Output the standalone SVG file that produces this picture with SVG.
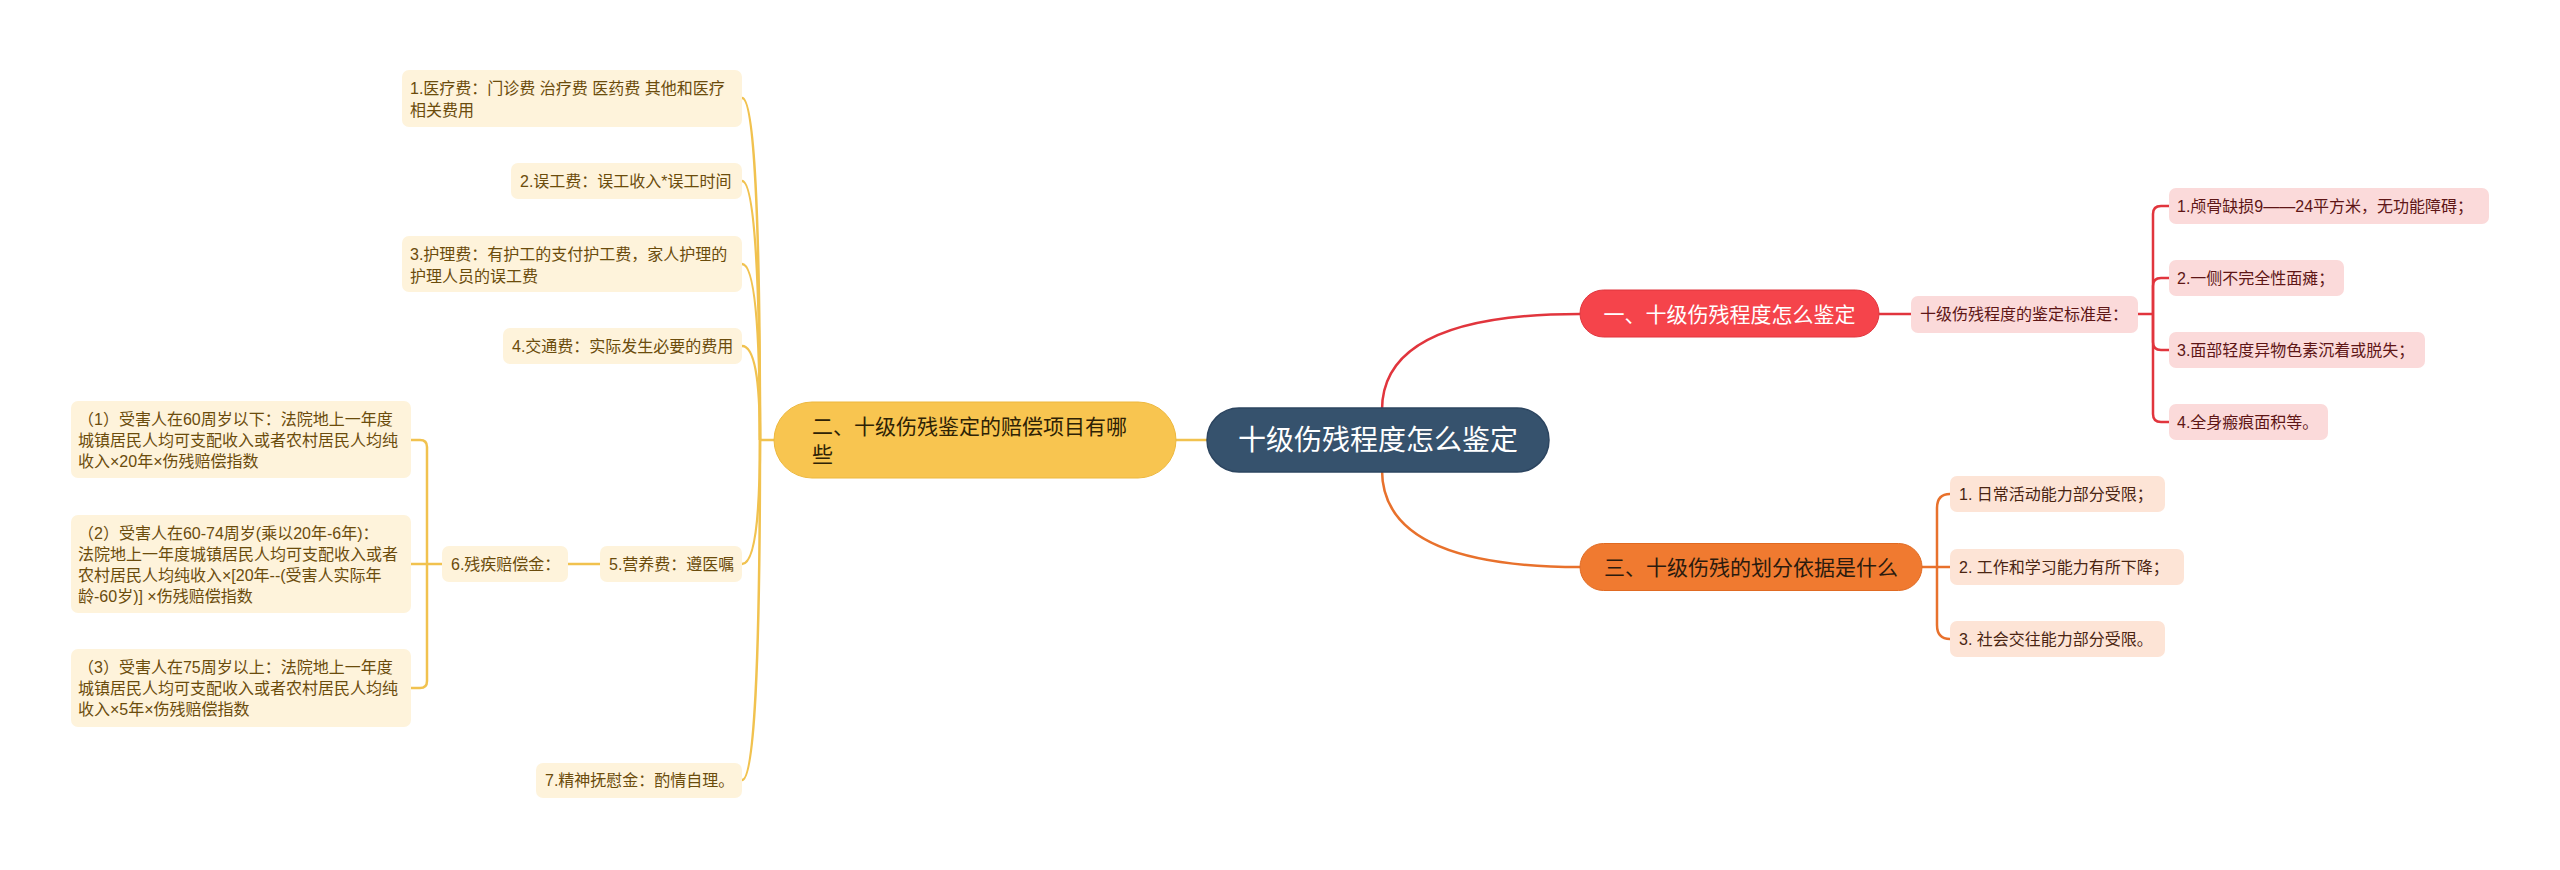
<svg xmlns="http://www.w3.org/2000/svg" width="2560" height="870" viewBox="0 0 2560 870">
<style>
text{font-family:"Liberation Sans","Noto Sans CJK SC",sans-serif;}
.yl{fill:#FEF3DB;}
.yt{fill:#6B4C0C;font-size:16px;}
.rl{fill:#FBDADA;}
.rt{fill:#5E1616;font-size:16px;}
.ol{fill:#FDE4D6;}
.ot{fill:#4A2512;font-size:16px;}
.cy{fill:none;stroke:#F1C24F;stroke-width:2.5;}
.cr{fill:none;stroke:#E1353D;stroke-width:2.5;}
.co{fill:none;stroke:#E8712C;stroke-width:2.5;}
</style>
<rect width="2560" height="870" fill="#FFFFFF"/>
<g id="connectors">
  <path class="cr" d="M1382,420 L1382,410 Q1382,314 1580,314"/>
  <path class="co" d="M1382,460 L1382,470 Q1382,567 1580,567"/>
  <path class="cy" d="M1207,440 L1176,440"/>
  <path class="cy" d="M774,440 L760,440"/>
  <path class="cy" d="M760,440 Q760,98 742,98"/>
  <path class="cy" d="M760,440 Q760,181 742,181"/>
  <path class="cy" d="M760,440 Q760,264 742,264"/>
  <path class="cy" d="M760,440 Q760,346 742,346"/>
  <path class="cy" d="M760,440 Q760,564 742,564"/>
  <path class="cy" d="M760,440 Q760,780 742,780"/>
  <path class="cy" d="M600,564 L568,564"/>
  <path class="cy" d="M442,564 L411,564"/>
  <path class="cy" d="M411,440 L420,440 Q427,440 427,447 L427,681 Q427,688 420,688 L411,688"/>
  <path class="cr" d="M1879,314 L1911,314"/>
  <path class="cr" d="M2138,314 L2153,314"/>
  <path class="cr" d="M2169,206 L2161,206 Q2153,206 2153,214 L2153,414 Q2153,422 2161,422 L2169,422"/>
  <path class="cr" d="M2153,314 L2153,286 Q2153,278 2161,278 L2169,278"/>
  <path class="cr" d="M2153,314 L2153,342 Q2153,350 2161,350 L2169,350"/>
  <path class="co" d="M1922,567 L1950,567"/>
  <path class="co" d="M1950,494 Q1937,494 1937,508 L1937,625 Q1937,639 1950,639"/>
</g>
<g id="root">
  <rect x="1207" y="408" width="342" height="64" rx="32" fill="#36526D" stroke="#2C4560" stroke-width="1.5"/>
  <text x="1378" y="450" text-anchor="middle" font-size="28" fill="#FFFFFF">十级伤残程度怎么鉴定</text>
</g>
<g id="branch1">
  <rect x="1580" y="290" width="299" height="47" rx="23.5" fill="#F5444B" stroke="#E0353D" stroke-width="1"/>
  <text x="1729.5" y="322" text-anchor="middle" font-size="21" fill="#FFFFFF">一、十级伤残程度怎么鉴定</text>
</g>
<g id="b1-sub">
  <rect class="rl" x="1911" y="296" width="227" height="37" rx="7"/>
  <text class="rt" x="1920" y="320">十级伤残程度的鉴定标准是：</text>
</g>
<g id="b1-l1">
  <rect class="rl" x="2169" y="188" width="320" height="36" rx="7"/>
  <text class="rt" x="2177" y="212">1.颅骨缺损9——24平方米，无功能障碍；</text>
</g>
<g id="b1-l2">
  <rect class="rl" x="2169" y="260" width="175" height="36" rx="7"/>
  <text class="rt" x="2177" y="284">2.一侧不完全性面瘫；</text>
</g>
<g id="b1-l3">
  <rect class="rl" x="2169" y="332" width="256" height="36" rx="7"/>
  <text class="rt" x="2177" y="356">3.面部轻度异物色素沉着或脱失；</text>
</g>
<g id="b1-l4">
  <rect class="rl" x="2169" y="404" width="159" height="36" rx="7"/>
  <text class="rt" x="2177" y="428">4.全身瘢痕面积等。</text>
</g>
<g id="branch3">
  <rect x="1580" y="543.5" width="342" height="47" rx="23.5" fill="#F07A30" stroke="#E06A22" stroke-width="1"/>
  <text x="1751" y="575" text-anchor="middle" font-size="21" fill="#2B1A0E">三、十级伤残的划分依据是什么</text>
</g>
<g id="b3-l1">
  <rect class="ol" x="1950" y="476" width="215" height="36" rx="7"/>
  <text class="ot" x="1959" y="500">1. 日常活动能力部分受限；</text>
</g>
<g id="b3-l2">
  <rect class="ol" x="1950" y="549" width="234" height="36" rx="7"/>
  <text class="ot" x="1959" y="573">2. 工作和学习能力有所下降；</text>
</g>
<g id="b3-l3">
  <rect class="ol" x="1950" y="621" width="215" height="36" rx="7"/>
  <text class="ot" x="1959" y="645">3. 社会交往能力部分受限。</text>
</g>
<g id="branch2">
  <rect x="774" y="402" width="402" height="76" rx="38" fill="#F8C550" stroke="#EDB83E" stroke-width="1"/>
  <text x="812" y="434" font-size="21" fill="#2E2205">二、十级伤残鉴定的赔偿项目有哪</text>
  <text x="812" y="462" font-size="21" fill="#2E2205">些</text>
</g>
<g id="b2-l1">
  <rect class="yl" x="402" y="70" width="340" height="57" rx="7"/>
  <text class="yt" x="410" y="94">1.医疗费：门诊费 治疗费 医药费 其他和医疗</text>
  <text class="yt" x="410" y="116">相关费用</text>
</g>
<g id="b2-l2">
  <rect class="yl" x="511" y="163" width="231" height="36" rx="7"/>
  <text class="yt" x="520" y="187">2.误工费：误工收入*误工时间</text>
</g>
<g id="b2-l3">
  <rect class="yl" x="402" y="236" width="340" height="56" rx="7"/>
  <text class="yt" x="410" y="260">3.护理费：有护工的支付护工费，家人护理的</text>
  <text class="yt" x="410" y="282">护理人员的误工费</text>
</g>
<g id="b2-l4">
  <rect class="yl" x="503" y="328" width="239" height="36" rx="7"/>
  <text class="yt" x="512" y="352">4.交通费：实际发生必要的费用</text>
</g>
<g id="b2-l5">
  <rect class="yl" x="600" y="546" width="142" height="36" rx="7"/>
  <text class="yt" x="609" y="570">5.营养费：遵医嘱</text>
</g>
<g id="b2-l6">
  <rect class="yl" x="442" y="546" width="126" height="36" rx="7"/>
  <text class="yt" x="451" y="570">6.残疾赔偿金：</text>
</g>
<g id="b2-l6-1">
  <rect class="yl" x="71" y="401" width="340" height="77" rx="7"/>
  <text class="yt" x="78" y="425">（1）受害人在60周岁以下：法院地上一年度</text>
  <text class="yt" x="78" y="446">城镇居民人均可支配收入或者农村居民人均纯</text>
  <text class="yt" x="78" y="467">收入×20年×伤残赔偿指数</text>
</g>
<g id="b2-l6-2">
  <rect class="yl" x="71" y="515" width="340" height="98" rx="7"/>
  <text class="yt" x="78" y="539">（2）受害人在60-74周岁(乘以20年-6年)：</text>
  <text class="yt" x="78" y="560">法院地上一年度城镇居民人均可支配收入或者</text>
  <text class="yt" x="78" y="581">农村居民人均纯收入×[20年--(受害人实际年</text>
  <text class="yt" x="78" y="602">龄-60岁)] ×伤残赔偿指数</text>
</g>
<g id="b2-l6-3">
  <rect class="yl" x="71" y="649" width="340" height="78" rx="7"/>
  <text class="yt" x="78" y="673">（3）受害人在75周岁以上：法院地上一年度</text>
  <text class="yt" x="78" y="694">城镇居民人均可支配收入或者农村居民人均纯</text>
  <text class="yt" x="78" y="715">收入×5年×伤残赔偿指数</text>
</g>
<g id="b2-l7">
  <rect class="yl" x="536" y="763" width="206" height="35" rx="7"/>
  <text class="yt" x="545" y="786">7.精神抚慰金：酌情自理。</text>
</g>
</svg>
